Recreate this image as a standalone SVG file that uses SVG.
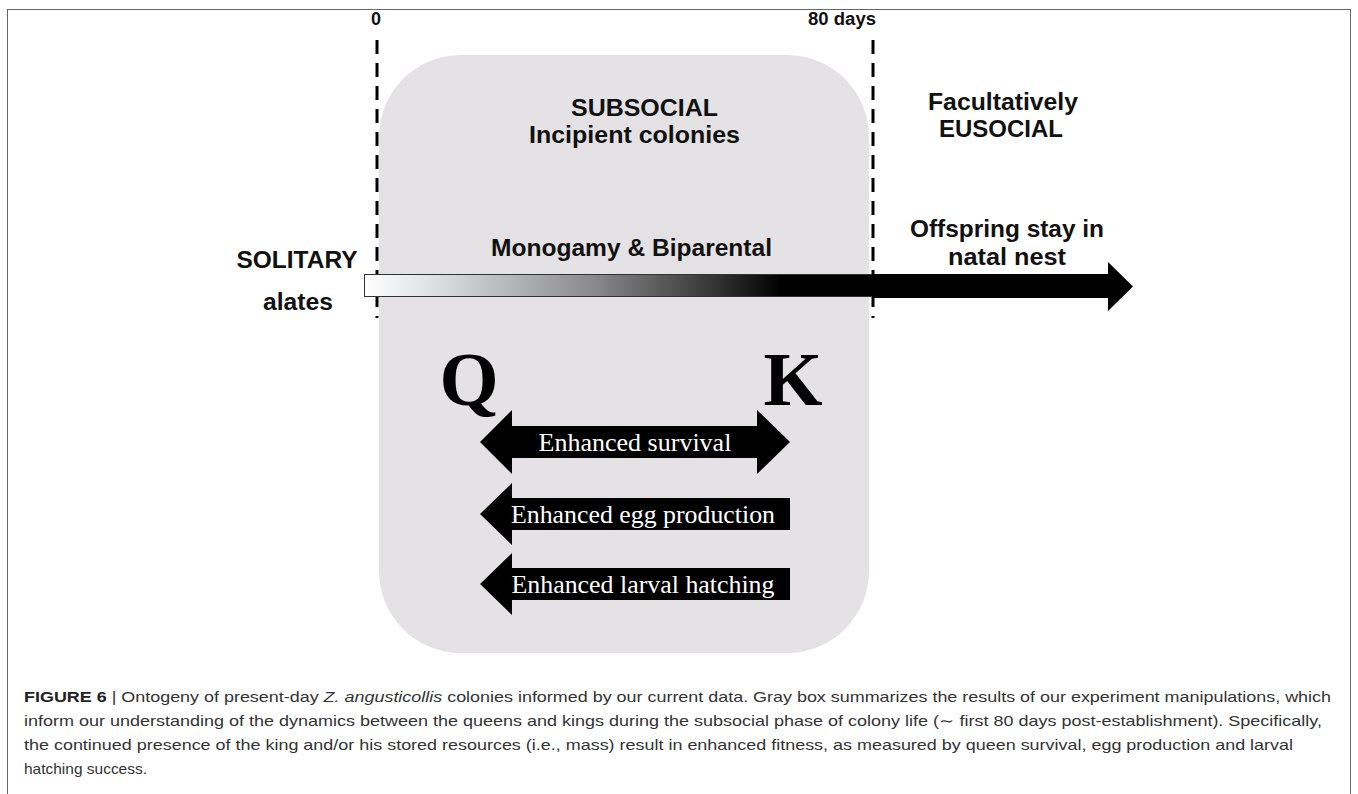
<svg xmlns="http://www.w3.org/2000/svg" width="1358" height="794" viewBox="0 0 1358 794">
<defs>
<linearGradient id="grad" x1="364" y1="0" x2="873" y2="0" gradientUnits="userSpaceOnUse">
<stop offset="0" stop-color="#ffffff"/>
<stop offset="0.12" stop-color="#e2e4e6"/>
<stop offset="0.45" stop-color="#8a8a8c"/>
<stop offset="0.7" stop-color="#303030"/>
<stop offset="0.82" stop-color="#000000"/>
<stop offset="1" stop-color="#000000"/>
</linearGradient>
<style>
.lbl{font-family:"Liberation Sans",Arial,sans-serif;font-weight:bold;font-size:23px;fill:#111;text-anchor:middle}
.tick{font-family:"Liberation Sans",Arial,sans-serif;font-weight:bold;font-size:18px;fill:#111;text-anchor:middle}
.big{font-family:"Liberation Serif","Times New Roman",serif;font-weight:bold;font-size:76px;fill:#000;text-anchor:middle}
.arrtxt{font-family:"Liberation Serif","Times New Roman",serif;font-size:26px;fill:#fff;text-anchor:middle}
.cap{font-family:"Liberation Sans",Arial,sans-serif;font-size:15px;fill:#333}
.dash{stroke:#000;stroke-width:3;stroke-dasharray:14 9;fill:none}
</style>
</defs>
<rect x="7.5" y="9.5" width="1343" height="800" fill="#fff" stroke="#666" stroke-width="1"/>
<g id="subsocial-box">
<rect x="379" y="55" width="490" height="598" rx="82" ry="82" fill="#e4e2e4"/>
<text class="lbl" x="644.5" y="116" textLength="147" lengthAdjust="spacingAndGlyphs">SUBSOCIAL</text>
<text class="lbl" x="634.5" y="143" textLength="211" lengthAdjust="spacingAndGlyphs">Incipient colonies</text>
<text class="lbl" x="631.5" y="256" textLength="281" lengthAdjust="spacingAndGlyphs">Monogamy &amp; Biparental</text>
</g>
<g id="timeline-labels">
<text class="tick" x="376" y="25">0</text>
<text class="tick" x="842" y="25" textLength="68" lengthAdjust="spacingAndGlyphs">80 days</text>
<text class="lbl" x="1003" y="110" textLength="150" lengthAdjust="spacingAndGlyphs">Facultatively</text>
<text class="lbl" x="1001" y="137" textLength="124" lengthAdjust="spacingAndGlyphs">EUSOCIAL</text>
<text class="lbl" x="1007" y="237" textLength="194" lengthAdjust="spacingAndGlyphs">Offspring stay in</text>
<text class="lbl" x="1007" y="265" textLength="118" lengthAdjust="spacingAndGlyphs">natal nest</text>
<text class="lbl" x="297" y="268" textLength="121" lengthAdjust="spacingAndGlyphs">SOLITARY</text>
<text class="lbl" x="298" y="310" textLength="70" lengthAdjust="spacingAndGlyphs">alates</text>
</g>
<g id="connectors">
<line class="dash" x1="377" y1="40" x2="377" y2="318"/>
<line class="dash" x1="873" y1="40" x2="873" y2="318"/>
<rect x="364.5" y="274.5" width="508" height="22" fill="url(#grad)" stroke="#333" stroke-width="1"/>
<polygon points="872,274 1108,274 1108,262 1133,286.5 1108,311 1108,298 872,298" fill="#000"/>
</g>
<g id="Q"><text class="big" x="469" y="405">Q</text></g>
<g id="K"><text class="big" x="793" y="405">K</text></g>
<g id="survival">
<polygon points="480,442 512,410 512,426 757,426 757,410 790,442 757,474 757,458 512,458 512,474" fill="#000"/>
<text class="arrtxt" x="635" y="451">Enhanced survival</text>
</g>
<g id="egg">
<polygon points="480,514 512,483 512,498 790,498 790,530 512,530 512,545" fill="#000"/>
<text class="arrtxt" x="643" y="523" textLength="264" lengthAdjust="spacingAndGlyphs">Enhanced egg production</text>
</g>
<g id="larval">
<polygon points="480,584 512,553 512,568 790,568 790,600 512,600 512,615" fill="#000"/>
<text class="arrtxt" x="643" y="593" textLength="263" lengthAdjust="spacingAndGlyphs">Enhanced larval hatching</text>
</g>
<g id="caption">
<text class="cap" x="24" y="702" textLength="1307" lengthAdjust="spacingAndGlyphs"><tspan font-weight="bold" fill="#222">FIGURE 6</tspan> | Ontogeny of present-day <tspan font-style="italic">Z. angusticollis</tspan> colonies informed by our current data. Gray box summarizes the results of our experiment manipulations, which</text>
<text class="cap" x="24" y="726" textLength="1298" lengthAdjust="spacingAndGlyphs">inform our understanding of the dynamics between the queens and kings during the subsocial phase of colony life (∼ first 80 days post-establishment). Specifically,</text>
<text class="cap" x="24" y="750" textLength="1269" lengthAdjust="spacingAndGlyphs">the continued presence of the king and/or his stored resources (i.e., mass) result in enhanced fitness, as measured by queen survival, egg production and larval</text>
<text class="cap" x="24" y="774" textLength="123" lengthAdjust="spacingAndGlyphs">hatching success.</text>
</g>
</svg>
